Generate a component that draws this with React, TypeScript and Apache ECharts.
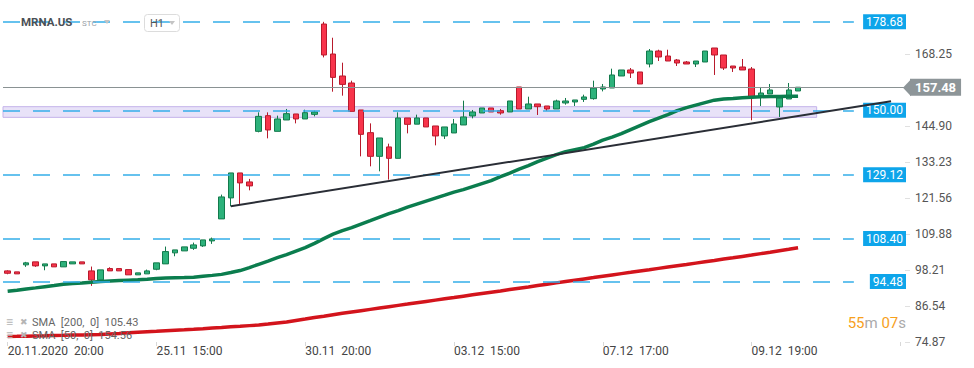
import React, { useEffect, useRef } from 'react';
import * as echarts from 'echarts';

// Trading sessions (day label, hourly bars)
const sessionDays: string[] = ['20.11.2020', '23.11', '24.11', '25.11', '27.11', '30.11', '01.12', '02.12', '03.12', '04.12', '07.12', '08.12', '09.12', '10.12'];
const sessionHours: number[][] = [
  [20, 21],
  [15, 16, 17, 18, 19, 20, 21],
  [15, 16, 17, 18, 19, 20, 21],
  [15, 16, 17, 18, 19, 20, 21],
  [15, 16, 17, 18],
  [15, 16, 17, 18, 19, 20, 21],
  [15, 16, 17, 18, 19, 20, 21],
  [15, 16, 17, 18, 19, 20, 21],
  [15, 16, 17, 18, 19, 20, 21],
  [15, 16, 17, 18, 19, 20, 21],
  [15, 16, 17, 18, 19, 20, 21],
  [15, 16, 17, 18, 19, 20, 21],
  [15, 16, 17, 18, 19, 20, 21],
  [15, 16, 17],
];
const futureSlots = 11;

const opens: number[] = [
  97.93, 97.61, 99.88, 100.85, 99.55, 100.20, 99.23, 100.20, 100.85, 97.93,
  95.02, 98.68, 98.68, 98.35, 96.64, 96.96, 98.45, 100.20, 103.77, 104.41,
  105.26, 106.03, 107.65, 114.78, 121.59, 129.69, 126.77, 143.17, 148.26, 143.17,
  146.86, 148.81, 147.19, 148.68, 177.97, 168.25, 161.12, 158.85, 150.10, 142.75,
  135.07, 138.12, 134.42, 147.51, 145.50, 147.51, 144.92, 141.68, 142.65, 145.24,
  148.16, 149.13, 150.75, 149.88, 149.46, 157.56, 150.43, 152.05, 151.40, 150.43,
  152.37, 152.70, 153.54, 153.77, 156.91, 157.23, 161.12, 163.07, 162.42, 165.01,
  169.22, 167.60, 166.31, 165.66, 165.01, 165.66, 170.20, 167.93, 164.36, 164.04,
  163.39, 154.64, 155.29, 151.08, 153.67, 156.26,
];
const closes: number[] = [
  97.16, 96.96, 100.53, 99.55, 100.20, 99.23, 100.95, 100.85, 100.20, 95.02,
  98.26, 97.93, 97.93, 96.64, 97.29, 97.93, 100.53, 104.19, 104.74, 105.71,
  106.36, 107.98, 108.30, 121.91, 129.69, 126.45, 125.48, 148.03, 143.62, 147.19,
  148.91, 147.19, 149.23, 149.46, 167.93, 160.67, 158.40, 149.65, 142.20, 135.07,
  141.03, 134.42, 147.51, 145.44, 147.51, 144.60, 141.68, 144.60, 145.57, 147.84,
  149.46, 150.75, 149.46, 149.13, 153.02, 150.43, 152.05, 151.17, 150.43, 153.02,
  153.02, 153.35, 154.32, 157.17, 157.56, 161.45, 163.07, 162.09, 158.53, 169.22,
  167.28, 165.98, 165.33, 165.01, 165.98, 169.22, 167.93, 163.71, 163.71, 163.07,
  154.41, 155.61, 156.59, 153.99, 156.59, 157.48,
];
const lows: number[] = [
  96.83, 96.96, 99.23, 99.23, 98.13, 99.23, 99.23, 100.20, 100.20, 93.07,
  95.02, 97.93, 97.93, 96.64, 96.64, 96.96, 98.13, 100.20, 102.67, 104.41,
  104.74, 105.71, 106.68, 114.78, 118.87, 119.64, 124.05, 142.85, 140.90, 143.17,
  146.86, 145.76, 147.19, 148.03, 167.15, 156.03, 154.74, 149.65, 135.07, 131.83,
  130.21, 127.52, 134.42, 142.52, 145.50, 144.60, 138.63, 140.71, 142.65, 145.24,
  147.38, 149.13, 149.46, 148.58, 149.46, 150.43, 150.43, 148.48, 149.78, 150.43,
  151.82, 151.40, 152.70, 153.44, 156.13, 157.23, 161.12, 160.47, 158.53, 163.91,
  165.98, 165.98, 164.36, 165.01, 164.04, 165.66, 161.45, 163.07, 162.42, 163.07,
  146.77, 151.40, 155.29, 147.84, 153.67, 156.26,
];
const highs: number[] = [
  98.13, 97.61, 100.85, 100.85, 100.20, 100.20, 100.95, 100.85, 100.85, 99.33,
  98.26, 99.10, 98.68, 98.35, 97.29, 98.35, 100.53, 105.81, 104.74, 105.71,
  107.10, 107.98, 108.73, 122.66, 129.69, 129.69, 127.75, 149.33, 149.33, 148.26,
  150.43, 148.81, 150.20, 149.88, 178.68, 173.53, 165.43, 159.60, 150.10, 145.76,
  141.03, 139.18, 149.33, 147.51, 148.58, 147.51, 144.92, 144.60, 147.19, 153.12,
  150.10, 150.75, 150.75, 150.43, 153.02, 157.56, 154.41, 152.05, 151.40, 153.44,
  153.99, 153.35, 155.06, 159.60, 158.53, 163.49, 163.07, 163.71, 162.42, 169.87,
  169.64, 169.64, 166.63, 165.98, 165.98, 169.22, 170.20, 167.93, 164.36, 166.63,
  164.04, 157.56, 158.53, 153.99, 158.85, 157.48,
];

const sma50: number[] = [
  91.32, 91.68, 92.07, 92.42, 92.81, 93.17, 93.56, 93.82, 94.01, 94.24,
  94.47, 94.63, 94.79, 94.92, 95.05, 95.24, 95.44, 95.63, 95.70, 95.76,
  95.89, 96.18, 96.47, 96.80, 97.38, 98.03, 99.00, 100.07, 101.11, 102.24,
  103.22, 104.35, 105.48, 106.84, 108.40, 109.86, 110.99, 111.97, 113.10, 114.23,
  115.37, 116.50, 117.47, 118.61, 119.58, 120.55, 121.52, 122.49, 123.47, 124.28,
  125.25, 126.22, 127.19, 128.49, 129.63, 130.92, 132.06, 133.35, 134.49, 135.62,
  136.59, 137.24, 137.89, 139.02, 140.32, 141.29, 142.42, 143.72, 145.02, 146.31,
  147.45, 148.58, 149.87, 150.85, 151.66, 152.47, 153.28, 153.67, 153.86, 154.09,
  154.25, 154.41, 154.48, 154.51, 154.54, 154.56,
];
const sma200: number[] = [
  76.64, 76.70, 76.77, 76.84, 76.90, 76.97, 77.03, 77.10, 77.16, 77.23,
  77.29, 77.47, 77.65, 77.83, 78.01, 78.18, 78.34, 78.51, 78.68, 78.84,
  79.01, 79.20, 79.40, 79.59, 79.79, 79.98, 80.18, 80.37, 80.69, 81.02,
  81.34, 81.83, 82.31, 82.80, 83.25, 83.71, 84.16, 84.59, 85.02, 85.45,
  85.88, 86.31, 86.74, 87.16, 87.59, 88.02, 88.45, 88.88, 89.30, 89.73,
  90.16, 90.59, 91.02, 91.44, 91.87, 92.30, 92.73, 93.17, 93.60, 94.04,
  94.47, 94.90, 95.33, 95.75, 96.18, 96.61, 97.04, 97.46, 97.89, 98.31,
  98.74, 99.17, 99.60, 100.02, 100.45, 100.88, 101.31, 101.75, 102.18, 102.62,
  103.05, 103.53, 104.00, 104.48, 104.95, 105.43,
];

const levelLines: number[] = [178.68, 150.0, 129.12, 108.4, 94.48];
const currentPrice = 157.48;
const zoneTop = 151.17;
const zoneBottom = 147.71;
const zoneEndIndex = 87;
const levelEndIndex = 91;
const trendStart: [number, number] = [24, 118.87];
const trendEnd: [number, number] = [95, 152.95];

const yMin = 74.87;
const yMax = 185.76;
const yTickValues: number[] = [74.87, 86.54, 98.21, 109.88, 121.56, 133.23, 144.9, 168.25];

const sma200Label = 'SMA  [200,  0]  105.43';
const sma50Label = 'SMA  [50,  0]  154.56';
const symbolName = 'MRNA.US';
const timeframe = 'H1';

const FONT = 'Roboto, "Noto Sans", sans-serif';

export default function App() {
  const ref = useRef<HTMLDivElement>(null);

  useEffect(() => {
    if (!ref.current) return;
    const chart = echarts.init(ref.current, undefined, { renderer: 'svg' });

    const categories: string[] = [];
    sessionDays.forEach((d, di) => {
      sessionHours[di].forEach((h) => {
        categories.push(`${d}  ${String(h).padStart(2, '0')}:00`);
      });
    });
    for (let i = 0; i < futureSlots; i++) categories.push('');

    const candles = opens.map((o, i) => [o, closes[i], lows[i], highs[i]]);

    const option: any = {
      animation: false,
      backgroundColor: '#ffffff',
      textStyle: { fontFamily: FONT },
      grid: { left: 3, right: 69, top: 0, bottom: 26, containLabel: false },
      xAxis: {
        type: 'category',
        data: categories,
        boundaryGap: true,
        axisLine: { show: false },
        axisTick: { show: true, alignWithLabel: true, interval: 15, length: 4, lineStyle: { color: '#d8d8d8' } },
        axisLabel: { interval: 15, align: 'left', color: '#444', fontSize: 12, margin: 3, fontFamily: FONT },
        splitLine: { show: false },
      },
      yAxis: {
        type: 'value',
        position: 'right',
        min: yMin,
        max: yMax,
        scale: true,
        axisLine: { show: false },
        axisTick: { show: true, length: 5, customValues: yTickValues, lineStyle: { color: '#e0e0e0' } },
        axisLabel: {
          color: '#555',
          fontSize: 12,
          margin: 10,
          fontFamily: FONT,
          customValues: yTickValues,
          formatter: (v: number) => Number(v).toFixed(2),
        },
        splitLine: { show: false },
      },
      series: [
        {
          name: 'MRNA',
          type: 'candlestick',
          data: candles,
          barWidth: 6,
          z: 2,
          itemStyle: {
            color: '#2db27b',
            color0: '#f8344b',
            borderColor: '#137a4c',
            borderColor0: '#b81a2c',
            borderWidth: 1,
          },
        },
        {
          name: 'SMA200',
          type: 'line',
          data: sma200,
          symbol: 'none',
          z: 3,
          lineStyle: { color: '#d3141c', width: 3.5 },
        },
        {
          name: 'SMA50',
          type: 'line',
          data: sma50,
          symbol: 'none',
          z: 3,
          lineStyle: { color: '#0b7d4e', width: 3.5 },
        },
        {
          name: 'zone',
          type: 'line',
          data: [],
          z: 4,
          markArea: {
            silent: true,
            itemStyle: { color: 'rgba(205,190,240,0.45)', borderColor: '#c4b3ea', borderWidth: 1 },
            data: [[{ yAxis: zoneTop }, { xAxis: zoneEndIndex, yAxis: zoneBottom }]],
          },
        },
        {
          id: 'levels',
          name: 'levels',
          type: 'line',
          data: [],
          z: 5,
        },
        {
          name: 'price',
          type: 'line',
          data: [],
          z: 5,
          markLine: {
            silent: true,
            symbol: 'none',
            lineStyle: { color: '#8a9293', width: 1, type: 'solid' },
            label: {
              show: true,
              position: 'end',
              distance: 5,
              formatter: () => currentPrice.toFixed(2),
              color: '#ffffff',
              backgroundColor: '#8d9598',
              padding: [2, 5, 2, 5],
              fontSize: 13,
              fontWeight: 'bold',
              lineHeight: 13,
              fontFamily: FONT,
            },
            data: [{ yAxis: currentPrice }],
          },
        },
        {
          name: 'trend',
          type: 'line',
          data: [trendStart, trendEnd],
          symbol: 'none',
          z: 6,
          lineStyle: { color: '#2a2e36', width: 2 },
        },
      ],
    };

    chart.setOption(option);

    const py = chart.convertToPixel({ yAxisIndex: 0 }, currentPrice) as number;
    const axisX = 974 - 69;
    const xa = chart.convertToPixel({ xAxisIndex: 0 }, 0) as number;
    const xb = chart.convertToPixel({ xAxisIndex: 0 }, 1) as number;
    const xStart = xa - (xb - xa) / 2;
    const xEnd = chart.convertToPixel({ xAxisIndex: 0 }, levelEndIndex) as number;

    const levelData = levelLines.map((v) => {
      const ly = chart.convertToPixel({ yAxisIndex: 0 }, v) as number;
      return [
        { name: v.toFixed(2), x: xStart, y: ly },
        { x: xEnd, y: ly },
      ];
    });

    chart.setOption({
      series: [
        {
          id: 'levels',
          markLine: {
            silent: true,
            symbol: 'none',
            lineStyle: { color: '#35aee9', width: 1.5, type: [17, 13] },
            label: {
              show: true,
              position: 'end',
              distance: [axisX + 1 - xEnd, 0],
              align: 'right',
              formatter: '{b}',
              color: '#ffffff',
              backgroundColor: '#0ea5ea',
              padding: [2, 3, 1, 3],
              fontSize: 12,
              lineHeight: 12,
              fontFamily: FONT,
            },
            data: levelData,
          },
        },
      ],
      graphic: [
        {
          type: 'polygon',
          z: 100,
          shape: { points: [[axisX - 2, py + 0.5], [axisX + 6, py - 8], [axisX + 6, py + 9]] },
          style: { fill: '#8d9598' },
        },
        {
          type: 'text',
          x: 21,
          y: 22,
          z: 100,
          style: { text: symbolName, fill: '#4a4f55', font: `bold 11.5px ${FONT}`, verticalAlign: 'middle' },
        },
        {
          type: 'text',
          x: 82,
          y: 23,
          z: 100,
          style: { text: 'STC', fill: '#9aa0a6', font: `8px ${FONT}`, verticalAlign: 'middle' },
        },
        {
          type: 'polygon',
          z: 100,
          shape: { points: [[104, 20], [110, 20], [107, 24]] },
          style: { fill: '#c4c4c4' },
        },
        {
          type: 'rect',
          z: 100,
          shape: { x: 144.5, y: 14.5, width: 35, height: 17, r: 3 },
          style: { fill: 'none', stroke: '#dcdcdc', lineWidth: 1 },
        },
        {
          type: 'text',
          x: 150,
          y: 23,
          z: 100,
          style: { text: timeframe, fill: '#555', font: `11px ${FONT}`, verticalAlign: 'middle' },
        },
        {
          type: 'polygon',
          z: 100,
          shape: { points: [[169, 21], [175, 21], [172, 25]] },
          style: { fill: '#c4c4c4' },
        },
        {
          type: 'text',
          x: 6,
          y: 322,
          z: 100,
          style: { text: '≡', fill: '#b5b5b5', font: `12px ${FONT}`, verticalAlign: 'middle' },
        },
        {
          type: 'text',
          x: 20,
          y: 322,
          z: 100,
          style: { text: '✖', fill: '#b5b5b5', font: `9px "DejaVu Sans"`, verticalAlign: 'middle' },
        },
        {
          type: 'text',
          x: 32,
          y: 322,
          z: 100,
          style: { text: sma200Label, fill: '#666', font: `11px ${FONT}`, verticalAlign: 'middle' },
        },
        {
          type: 'text',
          x: 6,
          y: 335,
          z: 100,
          style: { text: '≡', fill: '#b5b5b5', font: `12px ${FONT}`, verticalAlign: 'middle' },
        },
        {
          type: 'text',
          x: 20,
          y: 335,
          z: 100,
          style: { text: '✖', fill: '#b5b5b5', font: `9px "DejaVu Sans"`, verticalAlign: 'middle' },
        },
        {
          type: 'text',
          x: 32,
          y: 335,
          z: 100,
          style: { text: sma50Label, fill: '#666', font: `11px ${FONT}`, verticalAlign: 'middle' },
        },
        {
          type: 'text',
          x: 906,
          y: 323,
          z: 100,
          style: {
            text: '{o|55}{g|m }{o|07}{g|s}',
            align: 'right',
            verticalAlign: 'middle',
            font: `15px ${FONT}`,
            rich: {
              o: { fill: '#f7a01c', font: `15px ${FONT}` },
              g: { fill: '#aaaaaa', font: `15px ${FONT}` },
            },
          },
        },
      ],
    });

    return () => {
      chart.dispose();
    };
  }, []);

  return (
    <div
      ref={ref}
      style={{ position: 'absolute', left: 0, top: 0, width: 974, height: 368, background: '#fff' }}
    />
  );
}
